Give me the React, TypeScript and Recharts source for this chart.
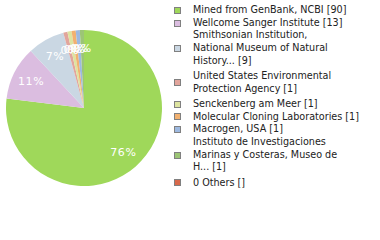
import React from "react";
import { PieChart, Pie, Cell, Legend } from "recharts";

const labels = [
  "Mined from GenBank, NCBI",
  "Wellcome Sanger Institute",
  "Smithsonian Institution, National Museum of Natural History...",
  "United States Environmental Protection Agency",
  "Senckenberg am Meer",
  "Molecular Cloning Laboratories",
  "Macrogen, USA",
  "Instituto de Investigaciones Marinas y Costeras, Museo de H...",
  "0 Others",
];

// legend text split into lines the way it wraps in the side column
const legendLines = [
  ["Mined from GenBank, NCBI [90]"],
  ["Wellcome Sanger Institute [13]"],
  ["Smithsonian Institution,", "National Museum of Natural", "History... [9]"],
  ["United States Environmental", "Protection Agency [1]"],
  ["Senckenberg am Meer [1]"],
  ["Molecular Cloning Laboratories [1]"],
  ["Macrogen, USA [1]"],
  ["Instituto de Investigaciones", "Marinas y Costeras, Museo de", "H... [1]"],
  ["0 Others []"],
];

const counts = [90, 13, 9, 1, 1, 1, 1, 1, 0];

const colors = [
  "#9fd85a",
  "#dbbde0",
  "#cad7e3",
  "#e2a59c",
  "#dde4a0",
  "#f2b170",
  "#9db9e0",
  "#9cc576",
  "#d8694b",
];

const data = labels.map((name, i) => ({ name, value: counts[i] }));
const total = counts.reduce((a, b) => a + b, 0);

const RADIAN = Math.PI / 180;

const renderLabel = (props: any) => {
  const { cx, cy, midAngle, outerRadius, value } = props;
  if (!value) return null;
  const r = outerRadius * 0.76;
  const x = cx + r * Math.cos(-midAngle * RADIAN);
  const y = cy + r * Math.sin(-midAngle * RADIAN);
  return (
    <text
      x={x}
      y={y}
      fill="#ffffff"
      textAnchor="middle"
      dominantBaseline="central"
      fontSize={11}
      letterSpacing={0.6}
      fontFamily="DejaVu Sans"
    >
      {Math.floor((value / total) * 100)}%
    </text>
  );
};

const renderLegend = () => (
  <div style={{ fontFamily: "DejaVu Sans Condensed", fontSize: 10.7, color: "#222" }}>
    {legendLines.map((lines, i) => (
      <div
        key={i}
        style={{
          display: "flex",
          alignItems: "center",
          marginBottom: lines.length > 1 ? 2.5 : 0,
        }}
      >
        <span
          style={{
            width: 5,
            height: 5,
            background: colors[i],
            border: "1px solid #808080",
            marginLeft: 4,
            marginRight: 12,
            flexShrink: 0,
          }}
        />
        <div style={{ lineHeight: "12.7px", whiteSpace: "nowrap" }}>
          {lines.map((l, j) => (
            <div key={j}>{l}</div>
          ))}
        </div>
      </div>
    ))}
  </div>
);

export default function App() {
  return (
    <div style={{ position: "absolute", left: 0, top: 0, width: 380, height: 240, background: "#fff" }}>
      <PieChart width={380} height={240} margin={{ top: 0, right: 0, bottom: 0, left: 0 }}>
        <Pie
          data={data}
          dataKey="value"
          cx={84}
          cy={108}
          outerRadius={78}
          startAngle={90}
          endAngle={-270}
          stroke="none"
          label={renderLabel}
          labelLine={false}
          isAnimationActive={false}
        >
          {data.map((d, i) => (
            <Cell key={d.name} fill={colors[i]} />
          ))}
        </Pie>
        <Legend
          content={renderLegend}
          wrapperStyle={{ position: "absolute", left: 170, top: 4, width: 210 }}
        />
      </PieChart>
    </div>
  );
}
